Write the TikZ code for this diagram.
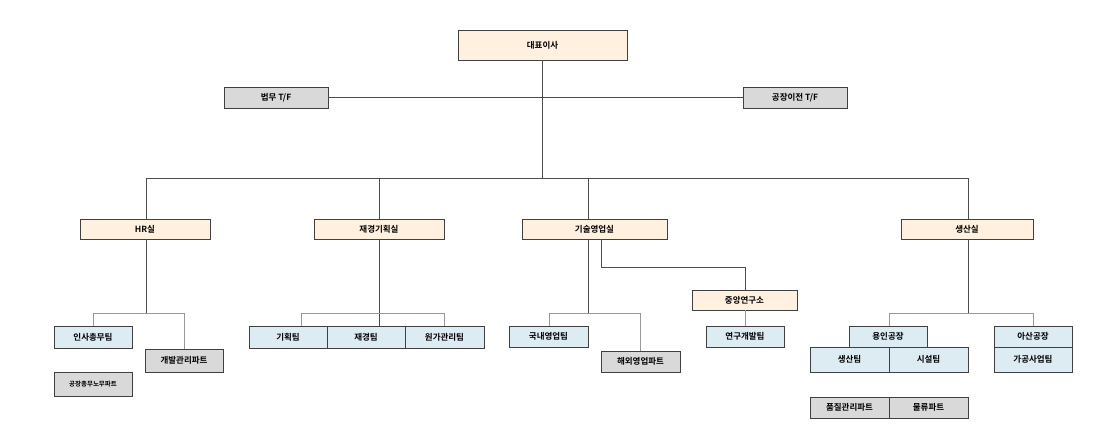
\documentclass[tikz,border=0pt]{standalone}
\usepackage{fontspec}
\setmainfont{Noto Sans CJK KR}[BoldFont={* Bold}]
\begin{document}
\begin{tikzpicture}[x=1pt,y=-1pt,
 box/.style={draw=black!75,line width=0.8pt,anchor=north west,inner sep=0pt,outer sep=0pt,font=\fontsize{8.5}{9}\selectfont\bfseries},
 peach/.style={box,fill=orange!12},
 blue/.style={box,fill={rgb,255:red,221;green,235;blue,242}},
 grayb/.style={box,fill=black!15},
 wire/.style={draw=black!70,line width=0.7pt},
 lwire/.style={draw=black!40,line width=0.7pt}]
\useasboundingbox (0,0) rectangle (1107,430);
% top
\node[peach,minimum width=169pt,minimum height=30pt] (ceo) at (458,30) {대표이사};
\node[grayb,minimum width=104pt,minimum height=21pt] (law) at (224,87) {법무 T/F};
\node[grayb,minimum width=104pt,minimum height=21pt] (move) at (743,87) {공장이전 T/F};
\node[peach,minimum width=130pt,minimum height=20pt] (hr) at (80,219) {HR실};
\node[peach,minimum width=130pt,minimum height=20pt] (fin) at (314,219) {재경기획실};
\node[peach,minimum width=145pt,minimum height=20pt] (tech) at (522,219) {기술영업실};
\node[peach,minimum width=132pt,minimum height=20pt] (prod) at (901,219) {생산실};
\coordinate (bus) at (0,178);
\draw[wire] (ceo.south) -- (ceo.south |- bus);
\draw[wire] (law.east) -- (move.west);
\draw[wire] (hr.north -| 146,0) |- (968,178) -- (prod.north -| 968,0);
\draw[wire] (fin.north -| 379,0) -- (379,178);
\draw[wire] (tech.north -| 588,0) -- (588,178);
% HR
\node[blue,minimum width=78pt,minimum height=22pt] (hr1) at (54,326) {인사총무팀};
\node[grayb,minimum width=78pt,minimum height=23pt] (hr2) at (145,349) {개발관리파트};
\node[grayb,minimum width=78pt,minimum height=24pt,font=\fontsize{6.5}{7}\selectfont\bfseries] (hr3) at (54,372) {공장총무노무파트};
\draw[wire] (hr.south -| 146,0) -- (146,313);
\draw[lwire] (hr1.north -| 93,0) |- (184,313) -- (hr2.north -| 184,0);
% Finance
\node[blue,minimum width=78pt,minimum height=22pt] (f1) at (249,326) {기획팀};
\node[blue,minimum width=78pt,minimum height=22pt] (f2) at (327,326) {재경팀};
\node[blue,minimum width=79pt,minimum height=22pt] (f3) at (405,326) {원가관리팀};
\draw[wire] (fin.south -| 379,0) -- (f2.north -| 379,0);
\draw[lwire] (f1.north -| 301,0) |- (444,313) -- (f3.north -| 444,0);
% Tech
\node[blue,minimum width=79pt,minimum height=21pt] (t1) at (509,326) {국내영업팀};
\node[grayb,minimum width=79pt,minimum height=21pt] (t2) at (601,351) {해외영업파트};
\node[peach,minimum width=105pt,minimum height=20pt] (lab) at (692,290) {중앙연구소};
\node[blue,minimum width=78pt,minimum height=21pt] (lab1) at (706,326) {연구개발팀};
\draw[wire] (tech.south -| 588,0) -- (588,313);
\draw[lwire] (t1.north -| 549,0) |- (640,313) -- (t2.north -| 640,0);
\draw[wire] (tech.south -| 601,0) |- (745,267) -- (lab.north -| 745,0);
\draw[lwire] (lab.south -| 745,0) -- (lab1.north -| 745,0);
% Production
\node[blue,minimum width=78pt,minimum height=21pt] (yi) at (849,326) {용인공장};
\node[blue,minimum width=79pt,minimum height=25pt] (p1) at (810,347) {생산팀};
\node[blue,minimum width=79pt,minimum height=25pt] (p2) at (889,347) {시설팀};
\node[blue,minimum width=78pt,minimum height=21pt] (as) at (994,326) {아산공장};
\node[blue,minimum width=78pt,minimum height=25pt] (as1) at (994,347) {가공사업팀};
\node[grayb,minimum width=79pt,minimum height=21pt] (q1) at (810,397) {품질관리파트};
\node[grayb,minimum width=79pt,minimum height=21pt] (q2) at (889,397) {물류파트};
\draw[wire] (prod.south -| 968,0) -- (968,313);
\draw[lwire] (yi.north -| 889,0) |- (1033,313) -- (as.north -| 1033,0);
\end{tikzpicture}
\end{document}
